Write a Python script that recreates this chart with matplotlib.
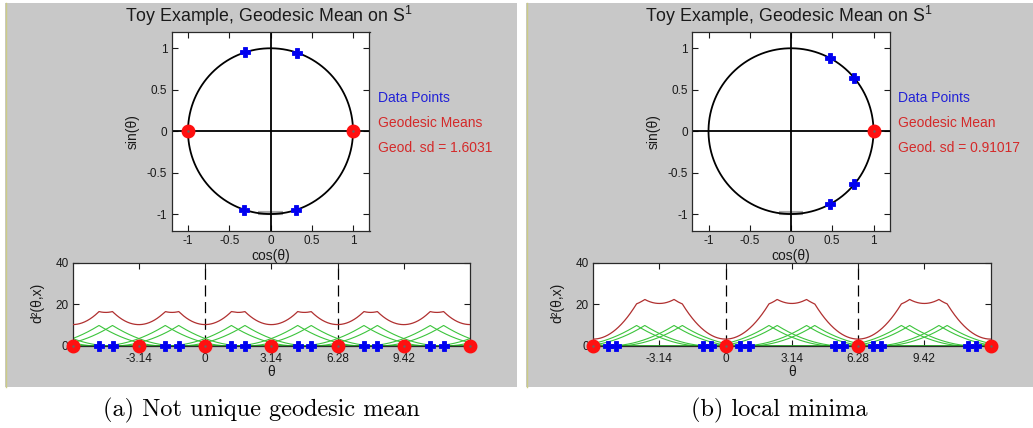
import numpy as np
import matplotlib
matplotlib.use("Agg")
import matplotlib.pyplot as plt
from matplotlib.patches import Rectangle
from matplotlib.lines import Line2D

plt.rcParams["font.family"] = ["Liberation Sans", "DejaVu Sans"]
plt.rcParams["mathtext.fontset"] = "custom"
plt.rcParams["mathtext.rm"] = "Liberation Sans"
plt.rcParams["lines.scale_dashes"] = False

# angles (rad) of the data points and of the geodesic means, one set per example
pts_a = [1.25, 1.89, 4.39, 5.03]
means_a = [0.0, 3.1416]
sd_a = "1.6031"
pts_b = [0.695, 1.085, 5.198, 5.588]
means_b = [0.0]
sd_b = "0.91017"

mean_labels = ["Geodesic Means", "Geodesic Mean"]
captions = ["(a) Not unique geodesic mean", "(b) local minima"]

circ_ticks = [-1, -0.5, 0, 0.5, 1]
circ_ticklabels = ["-1", "-0.5", "0", "0.5", "1"]
theta_ticks = [-np.pi, 0, np.pi, 2 * np.pi, 3 * np.pi]
theta_ticklabels = ["-3.14", "0", "3.14", "6.28", "9.42"]
d2_ticks = [0, 20, 40]
period_marks = [0, 2 * np.pi]

W, H = 1033, 428
GREY = "#c8c8c8"
BLUE = "#0000f0"
RED = "#ff1010"
TXT_BLUE = "#2222d6"
TXT_RED = "#d42a2a"
CURVE = "#b03030"
GREEN = "#3cc43c"
INK = "#1a1a1a"


def rect(x0, y0, x1, y1):
    """pixel box (origin top-left) -> figure fraction [l, b, w, h]"""
    return [x0 / W, 1 - y1 / H, (x1 - x0) / W, (y1 - y0) / H]


def geo_d2(t, p):
    d = np.abs((t - p + np.pi) % (2 * np.pi) - np.pi)
    return d ** 2


def copies(vals, lo=-2 * np.pi, hi=4 * np.pi):
    out = [v + 2 * np.pi * k for v in vals for k in range(-2, 3)]
    return np.array([v for v in out if lo - 1e-6 <= v <= hi + 1e-6])


def style(ax):
    ax.tick_params(direction="in", top=True, right=True, length=4, width=0.8,
                   labelsize=8.5, pad=3, colors=INK)
    for s in ax.spines.values():
        s.set_linewidth(0.9)
        s.set_color("#2a2a2a")


def data_marks(ax, x, y):
    ax.plot(x, y, "P", ms=7, color=BLUE, mec=BLUE, mew=0.6, zorder=5, clip_on=False)


def mean_marks(ax, x, y):
    ax.plot(x, y, "o", ms=7.5, mfc=RED, mec=RED, mew=2.5, zorder=6, clip_on=False)
    ax.plot(x, y, ".", ms=1.5, color="#666666", zorder=7, clip_on=False)


fig = plt.figure(figsize=(W / 100, H / 100), dpi=100)
fig.patch.set_facecolor("white")

panels = [(0.0, 5, 517, pts_a, means_a, sd_a),
          (520.5, 526, 1033, pts_b, means_b, sd_b)]

for i, (dx, gx0, gx1, pts, means, sd) in enumerate(panels):
    fig.patches.append(Rectangle((gx0 / W, 1 - 387 / H), (gx1 - gx0) / W, 384 / H,
                                 transform=fig.transFigure, facecolor=GREY,
                                 edgecolor="none", zorder=-5))
    fig.lines.append(Line2D([gx0 / W + 0.0005] * 2, [1 - 387 / H, 1 - 3 / H],
                            transform=fig.transFigure, color="#cccc88", lw=1))

    pts = np.array(pts)
    means = np.array(means)

    # --- points on the unit circle ---
    ax = fig.add_axes(rect(171.5 + dx, 31.7, 369.5 + dx, 230.6))
    t = np.linspace(0, 2 * np.pi, 400)
    ax.plot(np.cos(t), np.sin(t), color="black", lw=1.3, zorder=2)
    ax.plot([-0.15, 0.15], [-0.985, -0.985], color="#a8a8a8", lw=3, zorder=1,
            solid_capstyle="butt")
    ax.axhline(0, color="black", lw=1.3, zorder=2)
    ax.axvline(0, color="black", lw=1.3, zorder=2)
    data_marks(ax, np.cos(pts), np.sin(pts))
    mean_marks(ax, np.cos(means), np.sin(means))
    ax.set_xlim(-1.2, 1.2)
    ax.set_ylim(-1.2, 1.2)
    ax.set_xticks(circ_ticks)
    ax.set_xticklabels(circ_ticklabels)
    ax.set_yticks(circ_ticks)
    ax.set_yticklabels(circ_ticklabels)
    style(ax)
    ax.set_xlabel("cos(θ)", fontsize=10, color=INK, va="center")
    ax.xaxis.set_label_coords(0.5, -0.128)
    ax.set_ylabel("sin(θ)", fontsize=10, color=INK, va="center")
    ax.yaxis.set_label_coords(-0.195, 0.5)
    ax.text(0.49, 1.079, "Toy Example, Geodesic Mean on S$^1$", transform=ax.transAxes,
            ha="center", va="center", fontsize=12.8, color=INK)
    ax.text(1.3, 0.4, "Data Points", color=TXT_BLUE, fontsize=10, va="center",
            clip_on=False)
    ax.text(1.3, 0.1, mean_labels[i], color=TXT_RED, fontsize=10, va="center",
            clip_on=False)
    ax.text(1.3, -0.2, f"Geod. sd = {sd}", color=TXT_RED, fontsize=10, va="center",
            clip_on=False)

    # --- squared geodesic distance along the unwrapped angle ---
    bx = fig.add_axes(rect(72.7 + dx, 262.7, 470 + dx, 346))
    th = np.linspace(-2 * np.pi, 4 * np.pi, 1200)
    for p in pts:
        bx.plot(th, geo_d2(th, p), color=GREEN, lw=0.8, zorder=2)
    bx.axhline(0, color="#22aa22", lw=2, zorder=2)
    total = sum(geo_d2(th, p) for p in pts)
    bx.plot(th, total, color=CURVE, lw=0.9, zorder=3)
    for v in period_marks:
        bx.axvline(v, color="black", lw=0.9, ls=(0, (8, 4)), zorder=1)
    pc = copies(pts)
    data_marks(bx, pc, np.zeros(len(pc)))
    mc = copies(means)
    mean_marks(bx, mc, np.zeros(len(mc)))
    bx.set_xlim(-2 * np.pi, 4 * np.pi)
    bx.set_ylim(0, 40)
    bx.set_xticks(theta_ticks)
    bx.set_xticklabels(theta_ticklabels)
    bx.set_yticks(d2_ticks)
    bx.set_yticklabels([str(v) for v in d2_ticks])
    style(bx)
    bx.tick_params(axis="x", pad=5)
    bx.set_xlabel("θ", fontsize=10, color=INK, va="center")
    bx.xaxis.set_label_coords(0.5, -0.312)
    bx.set_ylabel("d²(θ,x)", fontsize=10, color=INK, va="center")
    bx.yaxis.set_label_coords(-0.09, 0.516)

    fig.text((gx0 + gx1) / 2 / W, 1 - 410 / H, captions[i], ha="center",
             va="center", fontsize=17.5, family="cmr10", color="black")

fig.savefig("out.png", dpi=100, facecolor="white")
